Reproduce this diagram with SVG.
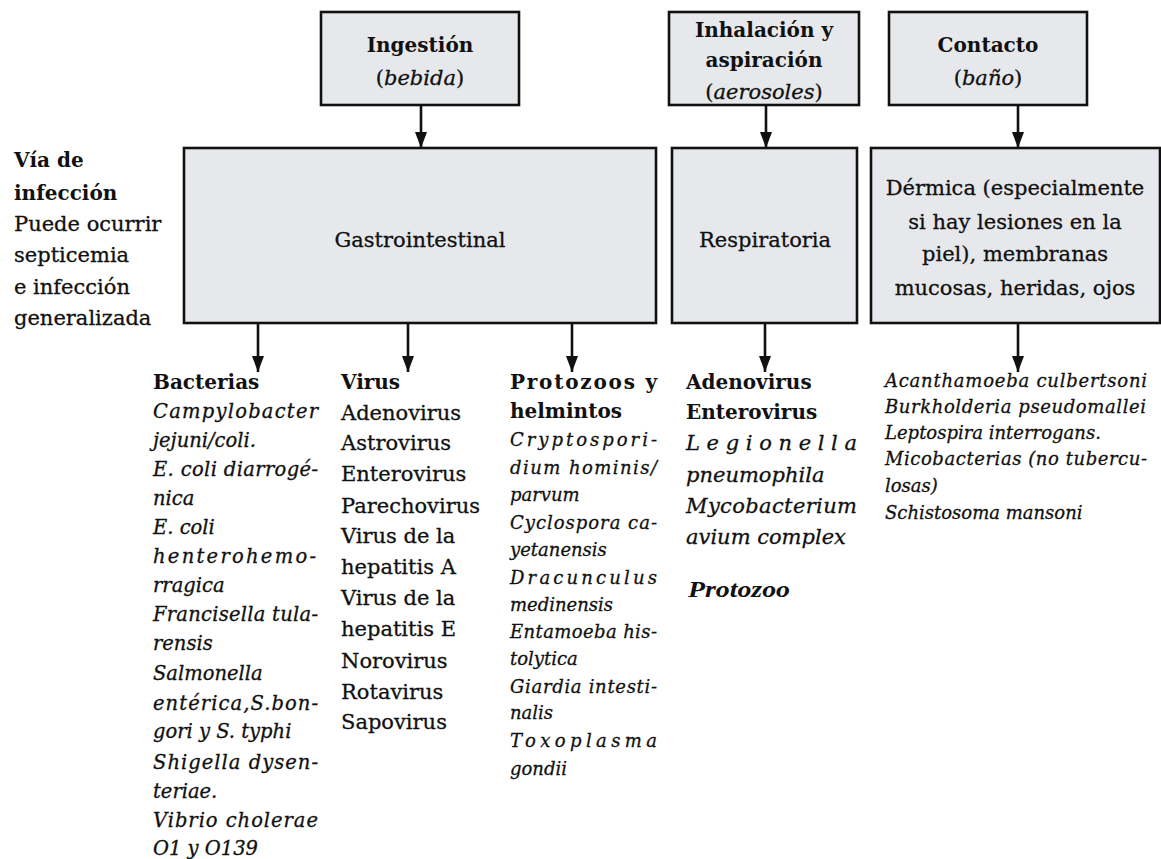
<svg xmlns="http://www.w3.org/2000/svg" width="1161" height="859" viewBox="0 0 1161 859">
<defs>
<style>
.box{fill:#e6e8eb;stroke:#111;stroke-width:2.6}
.t{font-family:"DejaVu Serif","Liberation Serif",serif;fill:#111;stroke:#111;stroke-width:0.3}
.c{text-anchor:middle}
.r21{font-size:21px}
.b20{font-size:20px;font-weight:bold;stroke-width:0}
.i21{font-size:21px;font-style:italic}
.i19{font-size:19.5px;font-style:italic}
.i18{font-size:18px;font-style:italic}
.i17{font-size:18px;font-style:italic}
.lnk{stroke:#111;stroke-width:2.6;fill:none}
</style>
<marker id="ah" markerWidth="16" markerHeight="12" refX="16" refY="6" orient="auto" markerUnits="userSpaceOnUse" viewBox="0 0 16 12">
<path d="M0,0 L16,6 L0,12 Z" fill="#111"/>
</marker>
</defs>
<rect width="1161" height="859" fill="#fff"/>

<g id="connectors">
<line class="lnk" x1="421" y1="105" x2="421" y2="148" marker-end="url(#ah)"/>
<line class="lnk" x1="766" y1="105" x2="766" y2="148" marker-end="url(#ah)"/>
<line class="lnk" x1="1018" y1="105" x2="1018" y2="148" marker-end="url(#ah)"/>
<line class="lnk" x1="258" y1="323" x2="258" y2="372" marker-end="url(#ah)"/>
<line class="lnk" x1="408" y1="323" x2="408" y2="372" marker-end="url(#ah)"/>
<line class="lnk" x1="572" y1="323" x2="572" y2="372" marker-end="url(#ah)"/>
<line class="lnk" x1="765" y1="323" x2="765" y2="372" marker-end="url(#ah)"/>
<line class="lnk" x1="1018" y1="323" x2="1018" y2="372" marker-end="url(#ah)"/>
</g>

<g id="ingestion">
<rect class="box" x="321" y="12" width="198" height="93"/>
<text class="t c b20" x="420" y="52">Ingestión</text>
<text class="t c r21" x="420" y="85">(<tspan font-style="italic">bebida</tspan>)</text>
</g>

<g id="inhalacion">
<rect class="box" x="669" y="12" width="190" height="93"/>
<text class="t c b20" x="764" y="37">Inhalación y</text>
<text class="t c b20" x="764" y="67">aspiración</text>
<text class="t c r21" x="764" y="99">(<tspan font-style="italic">aerosoles</tspan>)</text>
</g>

<g id="contacto">
<rect class="box" x="889" y="12" width="198" height="93"/>
<text class="t c b20" x="988" y="52">Contacto</text>
<text class="t c r21" x="988" y="85">(<tspan font-style="italic">baño</tspan>)</text>
</g>

<g id="via">
<text class="t b20" x="14" y="167">Vía de</text>
<text class="t b20" x="14" y="200">infección</text>
<text class="t r21" x="14" y="231">Puede ocurrir</text>
<text class="t r21" x="14" y="262">septicemia</text>
<text class="t r21" x="14" y="294">e infección</text>
<text class="t r21" x="14" y="325">generalizada</text>
</g>

<g id="gastrointestinal">
<rect class="box" x="184" y="148" width="472" height="175"/>
<text class="t c r21" x="420" y="247">Gastrointestinal</text>
</g>

<g id="respiratoria">
<rect class="box" x="672" y="148" width="185" height="175"/>
<text class="t c r21" x="765" y="247">Respiratoria</text>
</g>

<g id="dermica">
<rect class="box" x="871" y="148" width="289" height="175"/>
<text class="t c r21" x="1015" y="195">Dérmica (especialmente</text>
<text class="t c r21" x="1015" y="229">si hay lesiones en la</text>
<text class="t c r21" x="1015" y="261">piel), membranas</text>
<text class="t c r21" x="1015" y="295">mucosas, heridas, ojos</text>
</g>

<g id="bacterias">
<text class="t b20" x="153" y="389">Bacterias</text>
<text class="t i19" x="153" y="418" textLength="165" lengthAdjust="spacing">Campylobacter</text>
<text class="t i19" x="153" y="447">jejuni/coli.</text>
<text class="t i19" x="153" y="476" textLength="165" lengthAdjust="spacing">E. coli diarrogé-</text>
<text class="t i19" x="153" y="505">nica</text>
<text class="t i19" x="153" y="534">E. coli</text>
<text class="t i19" x="153" y="563" textLength="163" lengthAdjust="spacing">henterohemo-</text>
<text class="t i19" x="153" y="592">rragica</text>
<text class="t i19" x="153" y="621" textLength="165" lengthAdjust="spacing">Francisella tula-</text>
<text class="t i19" x="153" y="650">rensis</text>
<text class="t i19" x="153" y="680">Salmonella</text>
<text class="t i19" x="153" y="710" textLength="165" lengthAdjust="spacing">entérica,S.bon-</text>
<text class="t i19" x="153" y="738">gori y S. typhi</text>
<text class="t i19" x="153" y="769" textLength="165" lengthAdjust="spacing">Shigella dysen-</text>
<text class="t i19" x="153" y="798">teriae.</text>
<text class="t i19" x="153" y="827" textLength="165" lengthAdjust="spacing">Vibrio cholerae</text>
<text class="t i19" x="153" y="855">O1 y O139</text>
</g>

<g id="virus">
<text class="t b20" x="341" y="389">Virus</text>
<text class="t r21" x="341" y="420">Adenovirus</text>
<text class="t r21" x="341" y="450">Astrovirus</text>
<text class="t r21" x="341" y="481">Enterovirus</text>
<text class="t r21" x="341" y="513">Parechovirus</text>
<text class="t r21" x="341" y="543">Virus de la</text>
<text class="t r21" x="341" y="574">hepatitis A</text>
<text class="t r21" x="341" y="605">Virus de la</text>
<text class="t r21" x="341" y="636">hepatitis E</text>
<text class="t r21" x="341" y="668">Norovirus</text>
<text class="t r21" x="341" y="699">Rotavirus</text>
<text class="t r21" x="341" y="729">Sapovirus</text>
</g>

<g id="protozoos">
<text class="t b20" x="510" y="389" textLength="147" lengthAdjust="spacing">Protozoos y</text>
<text class="t b20" x="510" y="418">helmintos</text>
<text class="t i18" x="510" y="446" textLength="147" lengthAdjust="spacing">Cryptospori-</text>
<text class="t i18" x="510" y="474" textLength="147" lengthAdjust="spacing">dium hominis/</text>
<text class="t i18" x="510" y="501">parvum</text>
<text class="t i18" x="510" y="529" textLength="147" lengthAdjust="spacing">Cyclospora ca-</text>
<text class="t i18" x="510" y="556">yetanensis</text>
<text class="t i18" x="510" y="584" textLength="147" lengthAdjust="spacing">Dracunculus</text>
<text class="t i18" x="510" y="611">medinensis</text>
<text class="t i18" x="510" y="638" textLength="147" lengthAdjust="spacing">Entamoeba his-</text>
<text class="t i18" x="510" y="665">tolytica</text>
<text class="t i18" x="510" y="693" textLength="147" lengthAdjust="spacing">Giardia intesti-</text>
<text class="t i18" x="510" y="719">nalis</text>
<text class="t i18" x="510" y="747" textLength="147" lengthAdjust="spacing">Toxoplasma</text>
<text class="t i18" x="510" y="775">gondii</text>
</g>

<g id="respiratorios">
<text class="t b20" x="686" y="389">Adenovirus</text>
<text class="t b20" x="686" y="419">Enterovirus</text>
<text class="t i21" x="686" y="450" textLength="171" lengthAdjust="spacing">Legionella</text>
<text class="t i21" x="686" y="482">pneumophila</text>
<text class="t i21" x="686" y="513" textLength="171" lengthAdjust="spacing">Mycobacterium</text>
<text class="t i21" x="686" y="544">avium complex</text>
<text x="688" y="597" font-family="'Liberation Serif',serif" font-size="24" font-weight="bold" font-style="italic" fill="#111" textLength="102" lengthAdjust="spacingAndGlyphs">Protozoo</text>
</g>

<g id="contacto-lista">
<text class="t i17" x="885" y="387" textLength="262" lengthAdjust="spacing">Acanthamoeba culbertsoni</text>
<text class="t i17" x="885" y="413" textLength="261" lengthAdjust="spacing">Burkholderia pseudomallei</text>
<text class="t i17" x="885" y="439">Leptospira interrogans.</text>
<text class="t i17" x="885" y="465" textLength="262" lengthAdjust="spacing">Micobacterias (no tubercu-</text>
<text class="t i17" x="885" y="492">losas)</text>
<text class="t i17" x="885" y="519">Schistosoma mansoni</text>
</g>
</svg>
